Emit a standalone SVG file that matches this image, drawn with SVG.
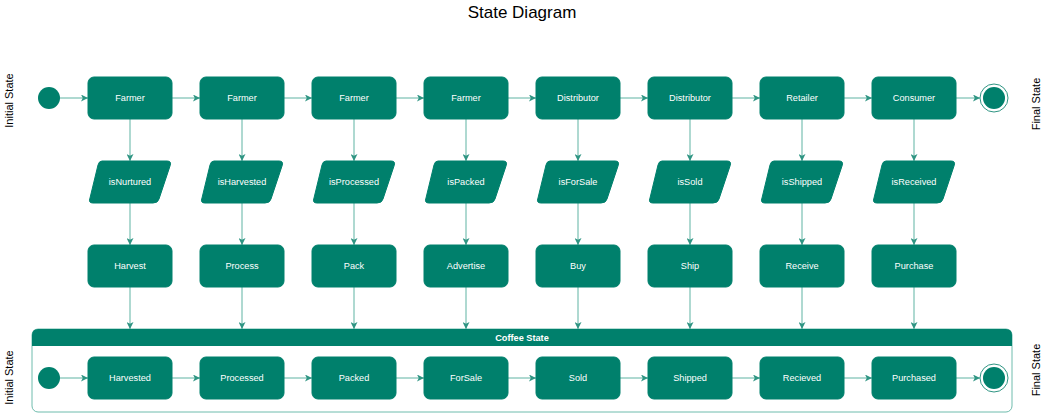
<svg xmlns="http://www.w3.org/2000/svg" width="1045" height="414" viewBox="0 0 1045 414">
<style>
.box{fill:#00806c;stroke:#00806c;}
.lbl{fill:#ffffff;font-family:"Liberation Sans",Arial,sans-serif;font-size:9.2px;text-anchor:middle;dominant-baseline:central;}
.side{fill:#000;font-family:"Liberation Sans",Arial,sans-serif;font-size:11px;text-anchor:middle;dominant-baseline:central;}
.con{stroke:#5fb3a3;stroke-width:1;fill:none;marker-end:url(#ah);}
</style>
<defs>
<marker id="ah" viewBox="0 0 10 10" refX="10" refY="5" markerWidth="7" markerHeight="7" markerUnits="userSpaceOnUse" orient="auto">
<path d="M0,0 L10,5 L0,10 L2.5,5 Z" fill="#2f9583"/>
</marker>
</defs>
<rect width="1045" height="414" fill="#ffffff"/>
<text x="522" y="12.5" style="font-family:'Liberation Sans',Arial,sans-serif;font-size:17px;text-anchor:middle;dominant-baseline:central;fill:#000">State Diagram</text>
<text class="side" transform="translate(9,100.5) rotate(-90)">Initial State</text>
<text class="side" transform="translate(9,377.5) rotate(-90)">Initial State</text>
<text class="side" transform="translate(1036,104) rotate(-90)">Final State</text>
<text class="side" transform="translate(1036,370) rotate(-90)">Final State</text>

<g id="container">
<rect x="32" y="329" width="980" height="83" rx="6" fill="#ffffff" stroke="#6fbcad" stroke-width="1"/>
<path d="M32,346 L32,335 Q32,329 38,329 L1006,329 Q1012,329 1012,335 L1012,346 Z" fill="#00806c"/>
<text x="522" y="337.5" class="lbl" style="font-weight:bold">Coffee State</text>
</g>

<g id="connectors">
<line class="con" x1="60" y1="98" x2="88" y2="98"/>
<line class="con" x1="172" y1="98" x2="200" y2="98"/>
<line class="con" x1="284" y1="98" x2="312" y2="98"/>
<line class="con" x1="396" y1="98" x2="424" y2="98"/>
<line class="con" x1="508" y1="98" x2="536" y2="98"/>
<line class="con" x1="620" y1="98" x2="648" y2="98"/>
<line class="con" x1="732" y1="98" x2="760" y2="98"/>
<line class="con" x1="844" y1="98" x2="872" y2="98"/>
<line class="con" x1="956" y1="98" x2="980" y2="98"/>

<line class="con" x1="60" y1="378" x2="88" y2="378"/>
<line class="con" x1="172" y1="378" x2="200" y2="378"/>
<line class="con" x1="284" y1="378" x2="312" y2="378"/>
<line class="con" x1="396" y1="378" x2="424" y2="378"/>
<line class="con" x1="508" y1="378" x2="536" y2="378"/>
<line class="con" x1="620" y1="378" x2="648" y2="378"/>
<line class="con" x1="732" y1="378" x2="760" y2="378"/>
<line class="con" x1="844" y1="378" x2="872" y2="378"/>
<line class="con" x1="956" y1="378" x2="980" y2="378"/>

<line class="con" x1="130" y1="119" x2="130" y2="161"/>
<line class="con" x1="242" y1="119" x2="242" y2="161"/>
<line class="con" x1="354" y1="119" x2="354" y2="161"/>
<line class="con" x1="466" y1="119" x2="466" y2="161"/>
<line class="con" x1="578" y1="119" x2="578" y2="161"/>
<line class="con" x1="690" y1="119" x2="690" y2="161"/>
<line class="con" x1="802" y1="119" x2="802" y2="161"/>
<line class="con" x1="914" y1="119" x2="914" y2="161"/>

<line class="con" x1="130" y1="203" x2="130" y2="245"/>
<line class="con" x1="242" y1="203" x2="242" y2="245"/>
<line class="con" x1="354" y1="203" x2="354" y2="245"/>
<line class="con" x1="466" y1="203" x2="466" y2="245"/>
<line class="con" x1="578" y1="203" x2="578" y2="245"/>
<line class="con" x1="690" y1="203" x2="690" y2="245"/>
<line class="con" x1="802" y1="203" x2="802" y2="245"/>
<line class="con" x1="914" y1="203" x2="914" y2="245"/>

<line class="con" x1="130" y1="287" x2="130" y2="329"/>
<line class="con" x1="242" y1="287" x2="242" y2="329"/>
<line class="con" x1="354" y1="287" x2="354" y2="329"/>
<line class="con" x1="466" y1="287" x2="466" y2="329"/>
<line class="con" x1="578" y1="287" x2="578" y2="329"/>
<line class="con" x1="690" y1="287" x2="690" y2="329"/>
<line class="con" x1="802" y1="287" x2="802" y2="329"/>
<line class="con" x1="914" y1="287" x2="914" y2="329"/>
</g>

<g id="start1"><circle cx="49" cy="98" r="11" fill="#00806c"/></g>
<g id="end1"><circle cx="994" cy="98" r="14" fill="#fff" stroke="#2f9583" stroke-width="1"/><circle cx="994" cy="98" r="11" fill="#00806c"/></g>
<g id="start2"><circle cx="49" cy="378" r="11" fill="#00806c"/></g>
<g id="end2"><circle cx="994" cy="378" r="14" fill="#fff" stroke="#2f9583" stroke-width="1"/><circle cx="994" cy="378" r="11" fill="#00806c"/></g>

<g id="actor1"><rect class="box" x="88" y="77" width="84" height="42" rx="6"/><text class="lbl" x="130" y="98">Farmer</text></g>
<g id="actor2"><rect class="box" x="200" y="77" width="84" height="42" rx="6"/><text class="lbl" x="242" y="98">Farmer</text></g>
<g id="actor3"><rect class="box" x="312" y="77" width="84" height="42" rx="6"/><text class="lbl" x="354" y="98">Farmer</text></g>
<g id="actor4"><rect class="box" x="424" y="77" width="84" height="42" rx="6"/><text class="lbl" x="466" y="98">Farmer</text></g>
<g id="actor5"><rect class="box" x="536" y="77" width="84" height="42" rx="6"/><text class="lbl" x="578" y="98">Distributor</text></g>
<g id="actor6"><rect class="box" x="648" y="77" width="84" height="42" rx="6"/><text class="lbl" x="690" y="98">Distributor</text></g>
<g id="actor7"><rect class="box" x="760" y="77" width="84" height="42" rx="6"/><text class="lbl" x="802" y="98">Retailer</text></g>
<g id="actor8"><rect class="box" x="872" y="77" width="84" height="42" rx="6"/><text class="lbl" x="914" y="98">Consumer</text></g>

<g id="cond1"><path class="box" d="M102,161 L167,161 Q172,161 170,166 L159,199 Q158,203 153,203 L93,203 Q88,203 90,198 L98,165 Q99,161 102,161 Z"/><text class="lbl" x="130" y="182">isNurtured</text></g>
<g id="cond2"><path class="box" transform="translate(112,0)" d="M102,161 L167,161 Q172,161 170,166 L159,199 Q158,203 153,203 L93,203 Q88,203 90,198 L98,165 Q99,161 102,161 Z"/><text class="lbl" x="242" y="182">isHarvested</text></g>
<g id="cond3"><path class="box" transform="translate(224,0)" d="M102,161 L167,161 Q172,161 170,166 L159,199 Q158,203 153,203 L93,203 Q88,203 90,198 L98,165 Q99,161 102,161 Z"/><text class="lbl" x="354" y="182">isProcessed</text></g>
<g id="cond4"><path class="box" transform="translate(336,0)" d="M102,161 L167,161 Q172,161 170,166 L159,199 Q158,203 153,203 L93,203 Q88,203 90,198 L98,165 Q99,161 102,161 Z"/><text class="lbl" x="466" y="182">isPacked</text></g>
<g id="cond5"><path class="box" transform="translate(448,0)" d="M102,161 L167,161 Q172,161 170,166 L159,199 Q158,203 153,203 L93,203 Q88,203 90,198 L98,165 Q99,161 102,161 Z"/><text class="lbl" x="578" y="182">isForSale</text></g>
<g id="cond6"><path class="box" transform="translate(560,0)" d="M102,161 L167,161 Q172,161 170,166 L159,199 Q158,203 153,203 L93,203 Q88,203 90,198 L98,165 Q99,161 102,161 Z"/><text class="lbl" x="690" y="182">isSold</text></g>
<g id="cond7"><path class="box" transform="translate(672,0)" d="M102,161 L167,161 Q172,161 170,166 L159,199 Q158,203 153,203 L93,203 Q88,203 90,198 L98,165 Q99,161 102,161 Z"/><text class="lbl" x="802" y="182">isShipped</text></g>
<g id="cond8"><path class="box" transform="translate(784,0)" d="M102,161 L167,161 Q172,161 170,166 L159,199 Q158,203 153,203 L93,203 Q88,203 90,198 L98,165 Q99,161 102,161 Z"/><text class="lbl" x="914" y="182">isReceived</text></g>

<g id="act1"><rect class="box" x="88" y="245" width="84" height="42" rx="6"/><text class="lbl" x="130" y="266">Harvest</text></g>
<g id="act2"><rect class="box" x="200" y="245" width="84" height="42" rx="6"/><text class="lbl" x="242" y="266">Process</text></g>
<g id="act3"><rect class="box" x="312" y="245" width="84" height="42" rx="6"/><text class="lbl" x="354" y="266">Pack</text></g>
<g id="act4"><rect class="box" x="424" y="245" width="84" height="42" rx="6"/><text class="lbl" x="466" y="266">Advertise</text></g>
<g id="act5"><rect class="box" x="536" y="245" width="84" height="42" rx="6"/><text class="lbl" x="578" y="266">Buy</text></g>
<g id="act6"><rect class="box" x="648" y="245" width="84" height="42" rx="6"/><text class="lbl" x="690" y="266">Ship</text></g>
<g id="act7"><rect class="box" x="760" y="245" width="84" height="42" rx="6"/><text class="lbl" x="802" y="266">Receive</text></g>
<g id="act8"><rect class="box" x="872" y="245" width="84" height="42" rx="6"/><text class="lbl" x="914" y="266">Purchase</text></g>

<g id="st1"><rect class="box" x="88" y="357" width="84" height="42" rx="6"/><text class="lbl" x="130" y="378">Harvested</text></g>
<g id="st2"><rect class="box" x="200" y="357" width="84" height="42" rx="6"/><text class="lbl" x="242" y="378">Processed</text></g>
<g id="st3"><rect class="box" x="312" y="357" width="84" height="42" rx="6"/><text class="lbl" x="354" y="378">Packed</text></g>
<g id="st4"><rect class="box" x="424" y="357" width="84" height="42" rx="6"/><text class="lbl" x="466" y="378">ForSale</text></g>
<g id="st5"><rect class="box" x="536" y="357" width="84" height="42" rx="6"/><text class="lbl" x="578" y="378">Sold</text></g>
<g id="st6"><rect class="box" x="648" y="357" width="84" height="42" rx="6"/><text class="lbl" x="690" y="378">Shipped</text></g>
<g id="st7"><rect class="box" x="760" y="357" width="84" height="42" rx="6"/><text class="lbl" x="802" y="378">Recieved</text></g>
<g id="st8"><rect class="box" x="872" y="357" width="84" height="42" rx="6"/><text class="lbl" x="914" y="378">Purchased</text></g>
</svg>
